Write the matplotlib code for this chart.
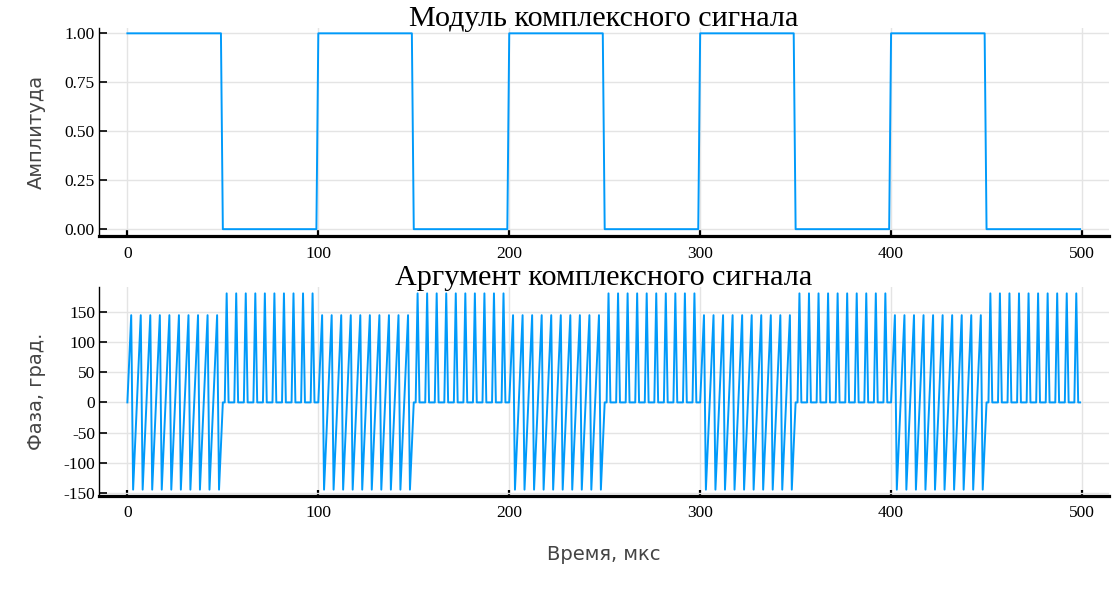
import numpy as np
import matplotlib.pyplot as plt

# Отсчёты времени, мкс (шаг 1 мкс)
n_samples = 500
segment_len = 50
# Амплитуда на каждом участке по 50 мкс
segment_amp = [1, 0, 1, 0, 1, 0, 1, 0, 1, 0]
# Фаза за один период (5 отсчётов) на участках с сигналом и без него, град.
phase_on_cycle = [0, 72, 144, -144, -72]
phase_off_cycle = [0, 0, 180, 0, 0]

t = np.arange(n_samples)
amp = np.repeat(segment_amp, segment_len)
phase = np.where(amp > 0,
                 np.array(phase_on_cycle)[t % 5],
                 np.array(phase_off_cycle)[t % 5])

plt.rcParams['axes.unicode_minus'] = False
line_color = '#009AFA'
grid_color = '#e4e4e4'
serif = ['Liberation Serif', 'DejaVu Serif']

fig = plt.figure(figsize=(11.17, 5.89), dpi=100)
ax1 = fig.add_axes([0.0884, 0.5993, 0.9042, 0.3531])
ax2 = fig.add_axes([0.0884, 0.1584, 0.9042, 0.3538])


def style(ax):
    ax.set_xlim(-15, 514)
    ax.set_xticks([0, 100, 200, 300, 400, 500])
    ax.grid(True, color=grid_color, lw=1)
    ax.set_axisbelow(True)
    for s in ['top', 'right']:
        ax.spines[s].set_visible(False)
    ax.spines['left'].set_linewidth(1.0)
    ax.spines['bottom'].set_linewidth(2.3)
    ax.tick_params(axis='x', direction='in', length=4.5, width=1.6, pad=7)
    ax.tick_params(axis='y', direction='in', length=5.5, width=1.2, pad=2.7)
    for lab in ax.get_xticklabels() + ax.get_yticklabels():
        lab.set_family(serif)
        lab.set_fontsize(12.5)


ax1.plot(t, amp, color=line_color, lw=1.4)
ax1.set_ylim(-0.035, 1.027)
ax1.set_yticks([0, 0.25, 0.5, 0.75, 1.0])
ax1.set_yticklabels(['0.00', '0.25', '0.50', '0.75', '1.00'])
style(ax1)

ax2.plot(t, phase, color=line_color, lw=1.4)
ax2.set_ylim(-154, 190)
ax2.set_yticks([-150, -100, -50, 0, 50, 100, 150])
style(ax2)

# Заголовки ставим вручную, чтобы не уезжали вверх из-за подписей делений
fig.text(604 / 1117, 1 - 26 / 589, 'Модуль комплексного сигнала', family=serif,
         fontsize=21.7, ha='center', va='baseline')
fig.text(604 / 1117, 1 - 285 / 589, 'Аргумент комплексного сигнала', family=serif,
         fontsize=21.7, ha='center', va='baseline')

fig.text(36 / 1117, 1 - 132 / 589, 'Амплитуда', rotation=90, ha='center',
         va='center', fontsize=14, color='#444444')
fig.text(36 / 1117, 1 - 391 / 589, 'Фаза, град.', rotation=90, ha='center',
         va='center', fontsize=14, color='#444444')
fig.text(604 / 1117, 1 - 555 / 589, 'Время, мкс', ha='center', va='center',
         fontsize=14, color='#444444')

plt.savefig('out.png', dpi=100)
